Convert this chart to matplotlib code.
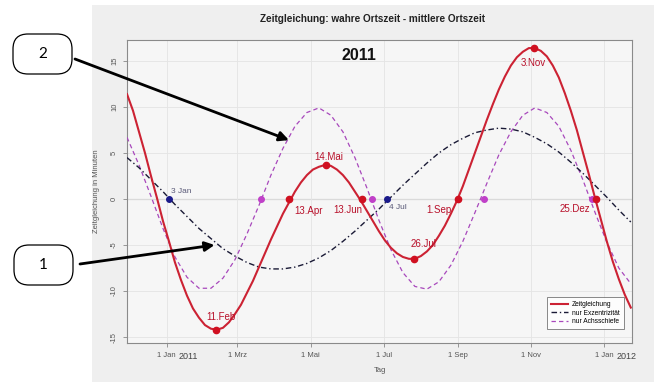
import pandas as pd
import matplotlib
matplotlib.use("Agg")
import matplotlib.pyplot as plt
import matplotlib.dates as mdates
from matplotlib.patches import FancyBboxPatch, Rectangle

plt.rcParams['font.family'] = ['Liberation Sans', 'DejaVu Sans']

# Zeitgleichung 2011, values (minutes)
# full curve every 5 days, the two components every 10 days
tage_zg = pd.date_range("2010-11-29", periods=85, freq="5D")
tage = pd.date_range("2010-11-29", periods=43, freq="10D")

zeitgleichung = [11.4, 9.6, 7.3, 5.0, 2.5, 0.1, -2.4, -4.6, -6.9, -8.8,
                 -10.5, -11.9, -12.9, -13.7, -14.1, -14.2, -14.0, -13.4, -12.5, -11.5,
                 -10.2, -8.9, -7.4, -5.9, -4.4, -3.0, -1.6, -0.4, 0.8, 1.8,
                 2.6, 3.2, 3.5, 3.7, 3.6, 3.2, 2.6, 1.8, 0.8, -0.2,
                 -1.3, -2.4, -3.5, -4.5, -5.3, -5.9, -6.3, -6.5, -6.5, -6.2,
                 -5.7, -5.0, -4.0, -2.9, -1.6, -0.2, 1.4, 3.2, 5.0, 6.8,
                 8.6, 10.3, 11.9, 13.3, 14.5, 15.4, 16.0, 16.4, 16.4, 16.1,
                 15.5, 14.5, 13.2, 11.5, 9.6, 7.5, 5.1, 2.7, 0.2, -2.2,
                 -4.6, -6.8, -8.7, -10.4, -11.8]

nur_exzentrizitaet = [4.5, 3.4, 2.1, 0.8, -0.6, -1.9, -3.2, -4.3, -5.4, -6.2,
                      -6.9, -7.4, -7.6, -7.6, -7.4, -7.0, -6.4, -5.6, -4.6, -3.5,
                      -2.3, -1.1, 0.2, 1.5, 2.7, 3.9, 5.0, 5.9, 6.6, 7.2,
                      7.5, 7.7, 7.6, 7.3, 6.7, 6.0, 5.1, 4.0, 2.8, 1.5,
                      0.2, -1.2, -2.5]

nur_achsschiefe = [6.7, 3.7, 0.3, -3.2, -6.3, -8.5, -9.7, -9.7, -8.6, -6.6,
                   -3.8, -0.7, 2.6, 5.5, 7.9, 9.4, 9.9, 9.1, 7.3, 4.5,
                   1.2, -2.3, -5.5, -8.0, -9.5, -9.8, -9.0, -7.2, -4.6, -1.5,
                   1.7, 4.8, 7.3, 9.1, 9.9, 9.4, 7.9, 5.3, 2.1, -1.4,
                   -4.7, -7.5, -9.2]

# marked points
zg_tage = ["2011-02-11", "2011-04-13", "2011-05-14", "2011-06-13",
           "2011-07-26", "2011-09-01", "2011-11-03", "2011-12-25"]
zg_werte = [-14.2, 0, 3.7, 0, -6.5, 0, 16.4, 0]
zg_namen = ["11.Feb", "13.Apr", "14.Mai", "13.Jun", "26.Jul", "1.Sep", "3.Nov", "25.Dez"]

ex_tage = ["2011-01-03", "2011-07-04"]
ex_namen = ["3 Jan", "4 Jul"]

as_tage = ["2011-03-21", "2011-06-21", "2011-09-23", "2011-12-22"]

tick_tage = ["2011-01-01", "2011-03-01", "2011-05-01", "2011-07-01",
             "2011-09-01", "2011-11-01", "2012-01-01"]
tick_namen = ["1 Jan", "1 Mrz", "1 Mai", "1 Jul", "1 Sep", "1 Nov", "1 Jan"]
jahre = ["2011", "2012"]

W, H = 654, 382
fig = plt.figure(figsize=(W / 100, H / 100), dpi=100)
fig.add_artist(Rectangle((92 / W, 0), 1 - 92 / W, 1 - 5 / H, transform=fig.transFigure,
                         facecolor='#efefef', edgecolor='none', zorder=-10))

ax = fig.add_axes([127 / W, 39 / H, 505 / W, 303 / H])
ax.set_facecolor('#f6f6f6')

x = mdates.date2num(tage)
rot = '#cc2233'
l_as, = ax.plot(x, nur_achsschiefe, color='#a848bc', lw=0.9, dashes=(3.5, 2.5), zorder=3,
                label='nur Achsschiefe')
l_ex, = ax.plot(x, nur_exzentrizitaet, color='#1a1a36', lw=1.0, dashes=(4, 2, 1, 2), zorder=3,
                label='nur Exzentrizität')
l_zg, = ax.plot(mdates.date2num(tage_zg), zeitgleichung, color=rot, lw=1.5, zorder=4,
                label='Zeitgleichung')

ax.axhline(0, color='#a8a8a8', lw=0.8, zorder=1)
ax.grid(color='#e4e4e4', lw=0.6, zorder=0)

# markers
zx = mdates.date2num(pd.to_datetime(zg_tage))
ex = mdates.date2num(pd.to_datetime(ex_tage))
asx = mdates.date2num(pd.to_datetime(as_tage))
ax.plot(asx, [0] * len(asx), 'o', color='#c040c8', ms=4, zorder=5)
ax.plot(ex, [0] * len(ex), 'o', color='#1a1a8a', ms=4, zorder=5)
ax.plot(zx, zg_werte, 'o', color='#d01020', ms=4.5, zorder=6)

offs = [(4, 9), (14, -9), (2, 6), (-10, -8), (7, 11), (-14, -8), (0, -11), (-15, -7)]
for xi, yi, name, o in zip(zx, zg_werte, zg_namen, offs):
    ax.annotate(name, (xi, yi), xytext=o, textcoords='offset points',
                ha='center', va='center', fontsize=7, color='#b8102a', zorder=7)

ax.annotate(ex_namen[0], (ex[0], 0), xytext=(1.5, 5.5), textcoords='offset points',
            ha='left', va='center', fontsize=6, color='#5a5a78')
ax.annotate(ex_namen[1], (ex[1], 0), xytext=(1.5, -6), textcoords='offset points',
            ha='left', va='center', fontsize=6, color='#5a5a78')

ax.set_xlim(mdates.date2num(pd.Timestamp("2010-11-29")), mdates.date2num(pd.Timestamp("2012-01-24")))
ax.set_ylim(-15.65, 17.28)

tx = mdates.date2num(pd.to_datetime(tick_tage))
ax.set_xticks(tx)
ax.set_xticklabels(tick_namen)
ax.set_yticks([-15, -10, -5, 0, 5, 10, 15])
ax.set_yticklabels(['-15', '-10', '-5', '0', '5', '10', '15'], rotation=90, va='center')
ax.tick_params(labelsize=5.5, labelcolor='#555555', color='#888888', length=3, width=0.6)
for sp in ax.spines.values():
    sp.set_color('#8a8a8a')
    sp.set_linewidth(0.8)

for xi, jahr in zip([tx[0], tx[-1]], jahre):
    ax.annotate(jahr, (xi, 0), xycoords=('data', 'axes fraction'), xytext=(8.5, -9.5),
                textcoords='offset points', ha='left', va='center', fontsize=6.5, color='#444444')

ax.set_xlabel("Tag", fontsize=5.5, color='#555555', labelpad=6)
ax.set_ylabel("Zeitgleichung in Minuten", fontsize=5.5, color='#555555', labelpad=8)

fig.text(372 / W, 1 - 19 / H, "Zeitgleichung: wahre Ortszeit - mittlere Ortszeit",
         ha='center', va='center', fontsize=7.2, weight='bold', color='#222222')
ax.text(0.46, 0.95, "2011", transform=ax.transAxes, ha='center', va='center',
        fontsize=11.5, weight='bold', color='#111111')

leg = ax.legend(handles=[l_zg, l_ex, l_as], loc='lower right', bbox_to_anchor=(0.99, 0.035),
                fontsize=4.8, frameon=True, fancybox=False, handlelength=2.6,
                borderpad=0.6, labelspacing=0.2, handletextpad=0.6)
leg.get_frame().set_edgecolor('#555555')
leg.get_frame().set_linewidth(0.6)

# numbered call-out boxes with arrows
for (x0, y0), nr in [((0.13, 3.08), "2"), ((0.14, 0.97), "1")]:
    fig.add_artist(FancyBboxPatch((x0, y0), 0.59, 0.40, boxstyle='round,pad=0,rounding_size=0.15',
                                  transform=fig.dpi_scale_trans, facecolor='white',
                                  edgecolor='black', lw=0.9))
    fig.text(x0 + 0.295, y0 + 0.2, nr, transform=fig.dpi_scale_trans, ha='center', va='center',
             fontsize=11, family='Lato')

pfeile = [((75, 59), ("2011-04-13", 6.4)), ((80, 264), ("2011-02-10", -5.0))]
for (px, py), (tag, wert) in pfeile:
    ax.annotate('', xy=(mdates.date2num(pd.Timestamp(tag)), wert), xycoords='data',
                xytext=(px / W, 1 - py / H), textcoords='figure fraction',
                arrowprops=dict(arrowstyle='-|>', color='black', lw=2.0, mutation_scale=14,
                                shrinkA=0, shrinkB=0), annotation_clip=False, zorder=10)

fig.savefig("out.png", dpi=100)
